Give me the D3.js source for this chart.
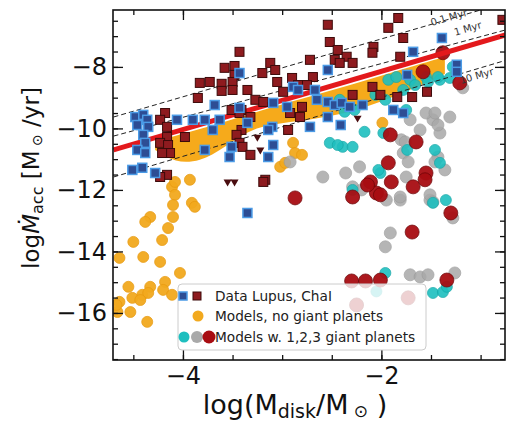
<!DOCTYPE html>
<html>
<head>
<meta charset="utf-8">
<script src="https://cdn.jsdelivr.net/npm/d3@7"></script>
<style>
  body { margin: 0; background: #fff; }
  svg text { font-family: "DejaVu Sans", sans-serif; }
</style>
</head>
<body>
<svg id="canvas_svg" width="506" height="423"></svg>
<script>
// data (log Mdisk, log Mdot)
var chaiX = [-3.43,-3.48,-3.58,-3.48,-3.83,-3.73,-3.50,-3.61,-3.50,-3.61,-3.85,-3.51,-3.41,-4.18,-4.23,-4.16,-4.16,-4.23,-4.15,-4.13,-4.21,-3.98,-3.41,-3.46,-3.43,-4.16,-4.23,
  -2.54,-2.52,-2.44,-2.35,-2.29,-2.47,-2.42,-2.72,-3.12,-3.20,-3.07,-3.05,-2.90,-2.69,-2.99,-2.84,-2.75,-3.27,-3.19,-3.35,-3.43,-3.32,-2.92,-2.80,-2.82,-2.94,-2.29,-2.09,-3.40,-3.32,-3.17,
  -1.83,-1.93,-1.78,-2.08,-2.09,-1.81,-0.78,-2.01,-1.84,-1.69,-1.54,-3.19];
var chaiY = [-7.51,-7.97,-8.03,-8.26,-8.52,-8.49,-8.49,-8.55,-8.75,-8.78,-9.01,-9.40,-9.40,-9.50,-9.72,-9.95,-10.28,-10.47,-10.54,-10.80,-10.80,-10.28,-10.05,-10.21,-10.47,-11.51,-11.58,
  -6.63,-7.19,-7.45,-7.67,-7.87,-7.77,-7.87,-7.77,-7.87,-8.20,-8.10,-8.49,-8.36,-8.33,-8.81,-8.59,-8.59,-9.07,-9.14,-8.75,-9.50,-9.63,-9.50,-9.30,-9.63,-10.05,-8.91,-8.65,-10.60,-10.86,-11.67,
  -6.41,-6.73,-7.06,-7.35,-7.54,-7.67,-6.47,-8.91,-8.98,-8.98,-8.81,-11.74];

var lupusX = [-4.48,-4.40,-4.36,-4.46,-4.35,-4.06,-3.90,-3.78,-3.63,-3.68,-3.70,-4.40,-4.38,-4.46,-4.38,-3.51,-3.53,-3.78,-4.41,-4.51,-4.28,-3.43,
  -2.54,-2.89,-2.84,-2.67,-2.65,-3.09,-2.95,-3.43,-3.35,-3.10,-2.72,-2.54,-2.47,-2.40,-2.32,-2.19,-2.54,-3.09,-3.14,-1.68,-1.39,-1.24,-1.24,-1.74,-3.35,-1.88,-1.78,-3.14,-2.41];
var lupusY = [-9.63,-9.56,-9.72,-9.89,-9.95,-9.72,-9.72,-9.72,-9.72,-9.24,-10.05,-10.21,-10.47,-10.70,-10.80,-10.60,-10.93,-10.70,-11.28,-11.35,-11.45,-8.20,
  -8.10,-8.65,-8.75,-8.75,-9.07,-9.17,-9.30,-9.33,-9.82,-9.95,-9.95,-9.14,-9.24,-9.17,-9.30,-9.24,-9.63,-10.54,-10.93,-7.51,-7.06,-7.93,-8.16,-8.26,-12.75,-9.40,-9.50,-10.05,-9.89];

var limX = [-3.48,-3.55,-3.25,-3.22,-2.24];
var limY = [-11.74,-11.74,-10.28,-10.70,-9.66];

var orangeX = [-4.11,-4.08,-4.10,-3.91,-3.88,-4.10,-4.33,-4.38,-4.15,-4.21,-4.50,-4.40,-4.64,-4.23,-4.03,-4.18,-4.55,-4.33,-4.41,-4.35,-4.51,-4.64,-4.66,-4.53,-4.20,-4.36,-4.11,-4.67,-4.43,
  -2.89,-2.87,-2.80,-3.02,-2.97,-1.99,-3.93,-4.08];
var orangeY = [-11.90,-12.16,-12.49,-12.42,-12.55,-12.88,-12.88,-13.04,-13.24,-13.63,-13.69,-14.18,-14.21,-14.34,-14.70,-14.99,-15.15,-15.15,-15.41,-15.35,-15.51,-15.64,-15.97,-15.97,-15.25,-16.29,-15.41,-15.74,-15.58,
  -10.47,-10.80,-10.86,-11.25,-11.12,-9.82,-11.67,-11.74];

var greyX = [-2.92,-2.59,-2.36,-2.22,-2.29,-2.20,-1.81,-1.75,-1.61,-1.48,-1.41,-1.31,-1.55,-1.71,-1.80,-1.78,-1.43,-1.51,-1.36,-1.95,-1.46,-1.43,-1.76,-1.73,-1.46,
  -1.81,-1.51,-1.48,-1.28,-1.91,-1.96,-1.71,-1.61,-1.53,-1.26,-1.18];
var greyY = [-11.09,-11.58,-11.45,-11.25,-11.90,-12.00,-12.33,-11.58,-10.05,-9.72,-10.15,-9.63,-9.50,-9.72,-10.37,-10.80,-10.93,-12.33,-11.35,-12.33,-9.50,-9.89,-10.44,-11.09,-11.09,
  -12.23,-12.16,-12.39,-12.91,-13.40,-13.85,-14.76,-14.83,-14.76,-14.70,-8.68];

var tealX = [-2.52,-2.39,-2.29,-2.17,-1.98,-1.75,-1.46,-1.41,-2.01,-2.29,-1.93,-1.85,-1.71,-1.55,-1.41,-1.28,-1.35,-2.44,-2.27,-2.37,-2.42,-1.43,-1.31,-1.53,-1.66,-1.78,
  -2.03,-1.74,-1.48,-1.96,-1.48,-1.38,-1.34,-2.06,-1.96,-2.05];
var tealY = [-10.47,-10.60,-10.60,-10.11,-10.15,-9.40,-10.70,-11.12,-11.45,-12.00,-8.42,-8.33,-8.42,-8.33,-8.42,-8.00,-12.33,-10.54,-9.40,-9.46,-9.07,-8.33,-8.36,-8.49,-8.59,-8.75,
  -11.35,-10.70,-12.42,-14.70,-15.35,-15.32,-15.15,-8.91,-9.07,-15.30];

var redX = [-1.91,-1.65,-1.93,-1.55,-2.11,-1.90,-1.68,-2.05,-2.29,-2.87,-1.58,-1.38,-1.21,-1.56,-2.01,-1.30,-1.69,-1.34,-2.01,-2.16,-2.30,-2.14,-2.25,-1.73];
var redY = [-10.21,-10.44,-11.12,-11.45,-11.74,-11.74,-11.90,-12.10,-12.23,-12.26,-8.16,-7.54,-8.52,-11.67,-12.16,-12.75,-13.37,-14.93,-14.93,-14.96,-14.96,-11.84,-15.74,-15.51];

// dense cloud of models without planets, drawn as a band
var bandX = [-4.28,-4.08,-3.83,-3.58,-3.32,-2.92,-2.52,-2.11,-1.71,-1.36];
var bandTop = [-10.44,-10.24,-10.02,-9.79,-9.53,-9.14,-8.78,-8.39,-8.00,-7.67];
var bandBot = [-10.70,-11.12,-11.09,-10.63,-9.98,-9.79,-9.63,-9.27,-8.75,-8.23];

// lines: [x0, y0, x1, y1]
var fitLine = [-4.70, -10.70, -0.75, -6.96];
var tLines = [[-4.70, -9.63, -1.00, -6.15], [-4.70, -10.25, -0.75, -6.80], [-4.70, -11.58, -0.75, -7.79]];
var tNames = ["0.1 Myr", "1 Myr", "10 Myr"];
var tLabelPos = [[-1.31, -6.50], [-1.12, -6.86], [-1.03, -8.40]];

var xTicks = [-4, -2];
var yTicks = [-16, -14, -12, -10, -8];

var svg = d3.select("#canvas_svg");
var pLeft = 113, pRight = 505, pTop = 10, pBottom = 360;

var x = d3.scaleLinear().domain([-4.705, -0.754]).range([pLeft, pRight]);
var y = d3.scaleLinear().domain([-17.53, -6.15]).range([pBottom, pTop]);

var plot = svg.append("g");
svg.append("clipPath").attr("id", "clip").append("rect")
  .attr("x", pLeft).attr("y", pTop).attr("width", pRight - pLeft).attr("height", pBottom - pTop);
var g = plot.append("g").attr("clip-path", "url(#clip)");

// orange band
var band = d3.area()
  .x((d, i) => x(bandX[i]))
  .y0((d, i) => y(bandBot[i]))
  .y1((d, i) => y(bandTop[i]))
  .curve(d3.curveBasis);
g.append("path").datum(bandX).attr("d", band).attr("fill", "#f5a50f").attr("opacity", 0.95);

function circles(xs, ys, r, fill, stroke, op) {
  g.append("g").selectAll("circle")
    .data(xs)
    .enter()
    .append("circle")
    .attr("cx", (d) => x(d))
    .attr("cy", (d, i) => y(ys[i]))
    .attr("r", r)
    .attr("fill", fill)
    .attr("stroke", stroke)
    .attr("stroke-width", 0.8)
    .attr("opacity", op);
}
circles(orangeX, orangeY, 5.5, "#f2a91e", "#e89a10", 0.95);
circles(greyX, greyY, 6, "#a9a9a9", "#9a9a9a", 0.85);
circles(tealX, tealY, 5.5, "#1ebfbf", "#17a8a8", 0.9);
circles(redX, redY, 7, "#a80d12", "#6e0508", 0.95);

// timescale lines
tLines.forEach(function(l) {
  g.append("line")
    .attr("x1", x(l[0])).attr("y1", y(l[1]))
    .attr("x2", x(l[2])).attr("y2", y(l[3]))
    .attr("stroke", "#222").attr("stroke-width", 1)
    .attr("stroke-dasharray", "5,3");
});
g.append("line")
  .attr("x1", x(fitLine[0])).attr("y1", y(fitLine[1]))
  .attr("x2", x(fitLine[2])).attr("y2", y(fitLine[3]))
  .attr("stroke", "#e3191c").attr("stroke-width", 5);

tNames.forEach(function(t, i) {
  var px = x(tLabelPos[i][0]), py = y(tLabelPos[i][1]);
  g.append("text")
    .attr("transform", "translate(" + px + "," + py + ") rotate(-16)")
    .attr("text-anchor", "middle")
    .attr("font-size", 10)
    .attr("fill", "#333")
    .text(t);
});

// data squares
function squares(xs, ys, fill, stroke, sw) {
  g.append("g").selectAll("rect")
    .data(xs)
    .enter()
    .append("rect")
    .attr("x", (d) => x(d) - 4.5)
    .attr("y", (d, i) => y(ys[i]) - 4.5)
    .attr("width", 9)
    .attr("height", 9)
    .attr("fill", fill)
    .attr("stroke", stroke)
    .attr("stroke-width", sw);
}
squares(chaiX, chaiY, "#8e1b1f", "#3c0a0a", 1);
squares(lupusX, lupusY, "#2d4d94", "#4b9be6", 1.5);

g.append("g").selectAll("path")
  .data(limX)
  .enter()
  .append("path")
  .attr("d", d3.symbol().type(d3.symbolTriangle).size(28))
  .attr("transform", (d, i) => "translate(" + x(d) + "," + y(limY[i]) + ") rotate(180)")
  .attr("fill", "#4a0d10");

// axes: ticks pointing in, on all sides
function minor(sc) {
  var d = sc.domain(), out = [];
  for (var v = Math.ceil(d[0] * 2) / 2; v <= d[1]; v += 0.5) out.push(v);
  return out;
}
var fmt = (d) => "\u2212" + Math.abs(d);

svg.append("g").attr("transform", "translate(0," + pBottom + ")")
  .call(d3.axisBottom(x).tickValues(minor(x)).tickSize(-5).tickFormat(""));
svg.append("g").attr("transform", "translate(0," + pBottom + ")")
  .call(d3.axisBottom(x).tickValues(xTicks).tickSize(-10).tickPadding(7).tickFormat(fmt));
svg.append("g").attr("transform", "translate(0," + pTop + ")")
  .call(d3.axisTop(x).tickValues(minor(x)).tickSize(-5).tickFormat(""));
svg.append("g").attr("transform", "translate(0," + pTop + ")")
  .call(d3.axisTop(x).tickValues(xTicks).tickSize(-10).tickFormat(""));

svg.append("g").attr("transform", "translate(" + pLeft + ",0)")
  .call(d3.axisLeft(y).tickValues(minor(y)).tickSize(-5).tickFormat(""));
svg.append("g").attr("transform", "translate(" + pLeft + ",0)")
  .call(d3.axisLeft(y).tickValues(yTicks).tickSize(-10).tickPadding(6).tickFormat(fmt));
svg.append("g").attr("transform", "translate(" + pRight + ",0)")
  .call(d3.axisRight(y).tickValues(minor(y)).tickSize(-5).tickFormat(""));
svg.append("g").attr("transform", "translate(" + pRight + ",0)")
  .call(d3.axisRight(y).tickValues(yTicks).tickSize(-10).tickFormat(""));

svg.selectAll(".domain").remove();
svg.selectAll(".tick line").attr("stroke", "#111").attr("stroke-width", 1.3);
svg.selectAll(".tick text").attr("font-size", 24).attr("fill", "#111")
  .attr("font-family", "DejaVu Sans");

svg.append("rect").attr("x", pLeft).attr("y", pTop)
  .attr("width", pRight - pLeft).attr("height", pBottom - pTop)
  .attr("fill", "none").attr("stroke", "#111").attr("stroke-width", 1.6);

// axis labels
var xl = svg.append("text").attr("x", 295).attr("y", 414).attr("text-anchor", "middle")
  .attr("font-size", 27).attr("fill", "#111");
xl.append("tspan").text("log(M");
xl.append("tspan").attr("font-size", 19).attr("dy", 4).text("disk");
xl.append("tspan").attr("dy", -4).text("/M");
xl.append("tspan").attr("font-size", 17).attr("dy", 3).text(" \u2299");
xl.append("tspan").attr("dy", -3).text(" )");

var yl = svg.append("text").attr("transform", "translate(39,178) rotate(-90)")
  .attr("text-anchor", "middle").attr("font-size", 23).attr("fill", "#111");
yl.append("tspan").text("log");
yl.append("tspan").attr("font-style", "italic").text("\u1E40");
yl.append("tspan").attr("font-size", 16).attr("dy", 4).text("acc");
yl.append("tspan").attr("dy", -4).text(" [M");
yl.append("tspan").attr("font-size", 14).attr("dy", 3).text(" \u2299");
yl.append("tspan").attr("dy", -3).text(" /yr]");

// legend
var lg = svg.append("g");
lg.append("rect").attr("x", 178).attr("y", 284).attr("width", 248).attr("height", 66)
  .attr("rx", 4).attr("fill", "#fff").attr("fill-opacity", 0.8)
  .attr("stroke", "#cccccc").attr("stroke-width", 1);
var rows = ["Data Lupus, ChaI", "Models, no giant planets", "Models w. 1,2,3 giant planets"];
var rowY = [296, 316, 337];
lg.append("rect").attr("x", 179).attr("y", rowY[0] - 4).attr("width", 8).attr("height", 8)
  .attr("fill", "#2d4d94").attr("stroke", "#4b9be6").attr("stroke-width", 1.5);
lg.append("rect").attr("x", 193).attr("y", rowY[0] - 4).attr("width", 8).attr("height", 8)
  .attr("fill", "#8e1b1f").attr("stroke", "#3c0a0a");
lg.append("circle").attr("cx", 198).attr("cy", rowY[1]).attr("r", 5.5).attr("fill", "#f2a91e");
lg.append("circle").attr("cx", 184).attr("cy", rowY[2]).attr("r", 5.5).attr("fill", "#1ebfbf");
lg.append("circle").attr("cx", 197).attr("cy", rowY[2]).attr("r", 6).attr("fill", "#a9a9a9");
lg.append("circle").attr("cx", 209).attr("cy", rowY[2]).attr("r", 6.5).attr("fill", "#a80d12");
lg.selectAll("text.row").data(rows).enter().append("text")
  .attr("class", "row")
  .attr("x", 215).attr("y", (d, i) => rowY[i] + 5)
  .attr("font-size", 13.7).attr("fill", "#222")
  .text((d) => d);
</script>
</body>
</html>
